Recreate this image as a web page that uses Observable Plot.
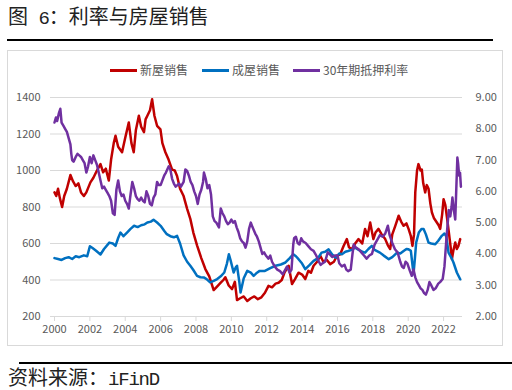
<!DOCTYPE html>
<html>
<head>
<meta charset="utf-8">
<script src="https://cdn.jsdelivr.net/npm/d3@7"></script>
<script src="https://cdn.jsdelivr.net/npm/@observablehq/plot@0.6"></script>
<style>
  body { margin:0; width:512px; height:390px; background:#fff; position:relative; overflow:hidden;
         font-family:"Noto Sans CJK SC","Noto Sans",sans-serif; }
  .abs { position:absolute; }
  .mono { font-family:"Liberation Mono","DejaVu Sans Mono",monospace; }
  #legend { position:absolute; top:62px; left:0; width:512px; height:16px; font-size:12px; color:#595959; }
  #legend .item { position:absolute; top:0; line-height:16px; white-space:nowrap; }
  #legend .sw { display:inline-block; width:27px; height:3px; vertical-align:middle; margin-right:3px; position:relative; top:-1px; }
</style>
</head>
<body>
<div class="abs" id="title" style="left:8px; top:5px; font-size:20px; line-height:22px; color:#222; white-space:nowrap;">图<span class="mono" style="font-size:19px; letter-spacing:-1px;"> 6</span>：利率与房屋销售</div>
<div class="abs" style="left:7px; top:39px; width:486px; height:2px; background:#000;"></div>
<div class="abs" style="left:7px; top:50px; width:496px; height:296px; border:1px solid #d9d9d9; box-sizing:border-box;"></div>
<div class="abs" id="chart" style="left:0; top:50px;"></div>
<div id="legend"></div>
<div class="abs" style="left:19px; top:362px; width:493px; height:2px; background:#000;"></div>
<div class="abs" id="source" style="left:8px; top:366px; font-size:20px; line-height:22px; color:#222; white-space:nowrap;">资料来源：<span class="mono" style="font-size:19px; letter-spacing:-1.2px;">iFinD</span></div>
<script>
// ---- data ----
const seriesNames = ["新屋销售", "成屋销售", "30年期抵押利率"];
const seriesColors = ["#C00000", "#0070C0", "#7030A0"];
const xTicks = [2000,2002,2004,2006,2008,2010,2012,2014,2016,2018,2020,2022];
const leftTicks = [200,400,600,800,1000,1200,1400];
const rightTicks = [2,3,4,5,6,7,8,9];

// 新屋销售 (left axis)
const newT = [2000.0,2000.1,2000.2,2000.3,2000.43,2000.55,2000.7,2000.9,2001.05,2001.2,2001.35,2001.5,2001.66,2001.8,2002.03,2002.2,2002.4,2002.6,2002.75,2002.9,2003.07,2003.2,2003.35,2003.45,2003.6,2003.82,2004.0,2004.2,2004.35,2004.48,2004.6,2004.77,2004.9,2005.06,2005.15,2005.25,2005.4,2005.52,2005.65,2005.8,2005.99,2006.1,2006.27,2006.45,2006.65,2006.8,2006.93,2007.1,2007.3,2007.5,2007.68,2007.85,2008.06,2008.3,2008.53,2008.75,2009.0,2009.15,2009.4,2009.55,2009.66,2009.85,2010.04,2010.2,2010.32,2010.5,2010.7,2010.9,2011.1,2011.3,2011.5,2011.7,2011.9,2012.1,2012.3,2012.5,2012.67,2012.85,2013.0,2013.24,2013.43,2013.6,2013.8,2014.0,2014.18,2014.35,2014.5,2014.65,2014.85,2015.03,2015.2,2015.4,2015.59,2015.8,2015.97,2016.15,2016.34,2016.53,2016.65,2016.81,2017.0,2017.19,2017.4,2017.56,2017.7,2017.85,2018.03,2018.15,2018.32,2018.5,2018.7,2018.85,2018.98,2019.1,2019.27,2019.46,2019.6,2019.74,2019.9,2020.02,2020.15,2020.24,2020.33,2020.4,2020.5,2020.58,2020.7,2020.77,2020.85,2020.96,2021.05,2021.15,2021.25,2021.34,2021.45,2021.62,2021.72,2021.81,2021.92,2022.0,2022.1,2022.18,2022.3,2022.4,2022.47,2022.55,2022.66,2022.75,2022.84,2022.94];
const newV = [880,860,900,850,800,860,900,975,940,915,930,880,860,880,935,960,1000,1035,990,1010,945,1060,1150,1190,1130,1100,1180,1263,1150,1100,1220,1300,1240,1210,1280,1300,1330,1390,1300,1245,1225,1150,1100,1060,1005,1000,970,900,860,790,735,660,590,520,460,420,345,360,385,400,415,370,350,390,290,300,310,285,300,310,295,305,330,368,360,380,385,400,440,478,378,405,440,430,405,450,440,478,500,533,500,510,487,500,533,540,585,624,580,569,600,624,600,680,640,715,624,660,680,650,624,590,570,650,697,752,720,697,710,680,640,587,650,880,1000,1035,1000,1005,930,880,920,900,820,770,740,715,700,680,760,843,810,752,660,580,514,560,605,570,587,624];

// 成屋销售 (left axis)
const exT = [2000.0,2000.2,2000.4,2000.6,2000.8,2001.0,2001.2,2001.4,2001.66,2001.85,2002.0,2002.15,2002.35,2002.6,2002.8,2003.1,2003.3,2003.45,2003.6,2003.73,2003.9,2004.1,2004.3,2004.5,2004.7,2004.9,2005.1,2005.25,2005.45,2005.6,2005.8,2006.0,2006.2,2006.35,2006.55,2006.75,2006.93,2007.1,2007.3,2007.5,2007.68,2007.85,2008.06,2008.25,2008.44,2008.6,2008.8,2009.0,2009.2,2009.4,2009.6,2009.75,2009.86,2009.95,2010.13,2010.25,2010.32,2010.45,2010.52,2010.7,2010.9,2011.1,2011.26,2011.45,2011.6,2011.9,2012.2,2012.5,2012.8,2013.06,2013.3,2013.5,2013.65,2013.8,2014.0,2014.18,2014.4,2014.65,2014.9,2015.1,2015.3,2015.5,2015.7,2015.9,2016.1,2016.25,2016.45,2016.6,2016.8,2017.0,2017.2,2017.4,2017.56,2017.75,2017.94,2018.1,2018.4,2018.6,2018.9,2019.1,2019.37,2019.55,2019.74,2019.9,2020.02,2020.15,2020.3,2020.38,2020.45,2020.6,2020.75,2020.87,2021.0,2021.15,2021.3,2021.53,2021.7,2021.9,2022.05,2022.15,2022.28,2022.45,2022.56,2022.75,2022.94];
const exV = [520,515,510,520,525,515,530,525,535,530,585,575,560,540,570,605,600,587,630,660,640,660,680,697,690,700,705,715,720,730,715,697,670,651,640,634,642,600,535,500,478,455,423,415,414,405,387,395,405,420,441,490,541,510,441,470,478,390,331,410,450,440,423,440,450,450,465,478,485,496,520,541,530,514,490,459,480,505,520,550,555,568,540,523,545,541,555,559,565,577,565,555,550,570,587,565,550,535,514,525,550,545,559,570,568,560,432,520,605,660,680,679,650,605,600,596,615,642,655,640,550,520,496,441,404];

// 30年期抵押利率 (right axis, %)
const rateT = [2000.0,2000.08,2000.15,2000.25,2000.33,2000.4,2000.5,2000.6,2000.7,2000.8,2000.9,2000.95,2001.0,2001.08,2001.2,2001.3,2001.4,2001.5,2001.6,2001.7,2001.8,2001.9,2002.0,2002.1,2002.2,2002.3,2002.4,2002.5,2002.6,2002.7,2002.8,2002.9,2003.0,2003.1,2003.2,2003.3,2003.4,2003.5,2003.6,2003.7,2003.8,2003.9,2004.0,2004.1,2004.2,2004.3,2004.4,2004.5,2004.6,2004.7,2004.8,2004.9,2005.0,2005.1,2005.2,2005.3,2005.4,2005.5,2005.6,2005.7,2005.8,2005.9,2006.0,2006.1,2006.2,2006.3,2006.46,2006.55,2006.65,2006.75,2006.85,2006.95,2007.05,2007.15,2007.3,2007.4,2007.5,2007.6,2007.7,2007.8,2007.9,2008.0,2008.1,2008.2,2008.3,2008.4,2008.45,2008.55,2008.65,2008.75,2008.85,2008.95,2009.05,2009.15,2009.3,2009.4,2009.5,2009.6,2009.7,2009.8,2009.9,2010.0,2010.1,2010.2,2010.3,2010.4,2010.5,2010.6,2010.7,2010.8,2010.9,2011.0,2011.1,2011.2,2011.35,2011.45,2011.55,2011.65,2011.75,2011.85,2011.95,2012.1,2012.2,2012.3,2012.45,2012.6,2012.75,2012.9,2013.05,2013.15,2013.3,2013.4,2013.5,2013.55,2013.65,2013.75,2013.85,2013.95,2014.05,2014.2,2014.35,2014.5,2014.65,2014.8,2014.95,2015.05,2015.15,2015.3,2015.45,2015.55,2015.7,2015.85,2016.0,2016.1,2016.25,2016.4,2016.5,2016.6,2016.75,2016.85,2016.92,2017.05,2017.2,2017.35,2017.5,2017.65,2017.8,2017.95,2018.1,2018.25,2018.4,2018.55,2018.7,2018.85,2018.95,2019.1,2019.25,2019.4,2019.55,2019.65,2019.75,2019.85,2019.95,2020.1,2020.2,2020.3,2020.4,2020.5,2020.6,2020.7,2020.8,2020.9,2021.0,2021.1,2021.2,2021.3,2021.43,2021.55,2021.7,2021.8,2021.95,2022.05,2022.15,2022.25,2022.3,2022.38,2022.45,2022.5,2022.58,2022.66,2022.72,2022.78,2022.82,2022.88,2022.93,2022.98];
const rateV = [8.2,8.36,8.25,8.5,8.64,8.2,8.1,8.0,7.9,7.7,7.5,7.2,7.0,6.95,7.1,7.2,7.15,7.1,7.0,6.9,6.6,6.8,7.1,6.9,7.15,7.0,6.85,6.6,6.35,6.1,6.15,6.05,5.95,5.85,5.7,5.3,5.25,6.05,6.35,6.0,5.85,5.9,5.7,5.6,5.45,5.9,6.3,6.1,5.85,5.75,5.7,5.8,5.7,5.65,6.0,5.85,5.6,5.55,5.8,5.9,6.3,6.2,6.2,6.35,6.5,6.6,6.8,6.7,6.4,6.25,6.15,6.2,6.25,6.15,6.3,6.7,6.65,6.5,6.3,6.2,6.0,5.85,5.6,5.9,6.05,6.3,6.6,6.4,6.1,6.2,5.9,5.2,5.05,5.0,4.85,5.45,5.3,5.2,5.05,4.95,5.0,5.1,5.0,5.05,4.85,4.7,4.5,4.4,4.35,4.2,4.4,4.8,5.0,4.85,4.65,4.55,4.4,4.2,4.0,4.05,3.95,3.85,3.95,3.75,3.6,3.5,3.45,3.35,3.5,3.6,3.4,3.5,4.3,4.5,4.55,4.35,4.3,4.5,4.4,4.35,4.25,4.15,4.1,3.95,3.75,3.65,3.7,3.75,4.05,4.0,3.9,3.95,3.95,3.7,3.6,3.65,3.5,3.45,3.5,4.0,4.3,4.2,4.15,4.05,3.95,3.85,3.95,4.0,4.3,4.45,4.6,4.55,4.65,4.9,4.6,4.35,4.15,4.05,3.75,3.6,3.55,3.75,3.7,3.45,3.3,3.5,3.25,3.1,3.0,2.9,2.85,2.75,2.7,2.85,3.1,3.0,2.85,2.9,3.05,3.1,3.2,3.6,4.4,5.1,5.4,5.2,5.5,5.8,5.4,5.1,6.1,7.08,6.9,6.5,6.6,6.15];

// ---- build tables ----
const rateToLeft = r => 200 + (r - 2) * 1200 / 7;
const leftToRate = v => 2 + (v - 200) * 7 / 1200;
const newData = newT.map((t, i) => ({t, v: newV[i]}));
const exData = exT.map((t, i) => ({t, v: exV[i]}));
const rateData = rateT.map((t, i) => ({t, v: rateV[i]}));

const font = '"Noto Sans CJK SC","Noto Sans",sans-serif';
const chart = Plot.plot({
  width: 512,
  height: 296,
  marginTop: 47,
  marginBottom: 30,
  marginLeft: 54,
  marginRight: 50,
  x: {domain: [2000, 2023.07]},
  y: {domain: [200, 1400]},
  style: {fontFamily: font, fontSize: "11px", color: "#595959", background: "transparent", overflow: "visible"},
  marks: [
    Plot.gridY(leftTicks, {stroke: "#d9d9d9", strokeOpacity: 1, strokeWidth: 1}),
    Plot.axisY(leftTicks, {anchor: "left", tickSize: 4, tickPadding: 10, stroke: "#d9d9d9", fill: "#595959",
      tickFormat: d => String(d), label: null}),
    Plot.axisY(rightTicks.map(rateToLeft), {anchor: "right", tickSize: 0, tickPadding: 13, fill: "#595959",
      tickFormat: d => leftToRate(d).toFixed(2), label: null}),
    Plot.axisX(xTicks, {tickSize: 5, tickPadding: 4, stroke: "#d9d9d9", fill: "#595959", tickFormat: d => String(d), label: null}),
    Plot.line(newData, {x: "t", y: "v", stroke: seriesColors[0], strokeWidth: 2.5, curve: "linear"}),
    Plot.line(exData, {x: "t", y: "v", stroke: seriesColors[1], strokeWidth: 2.5, curve: "linear"}),
    Plot.line(rateData, {x: "t", y: d => rateToLeft(d.v), stroke: seriesColors[2], strokeWidth: 2.5, curve: "linear"})
  ]
});
document.getElementById("chart").appendChild(chart);

// ---- legend ----
const legend = document.getElementById("legend");
const legendLeft = [110, 202, 293];
seriesNames.forEach((name, i) => {
  const item = document.createElement("div");
  item.className = "item";
  item.style.left = legendLeft[i] + "px";
  item.innerHTML = `<span class="sw" style="background:${seriesColors[i]}"></span>${name}`;
  legend.appendChild(item);
});
</script>
</body>
</html>
